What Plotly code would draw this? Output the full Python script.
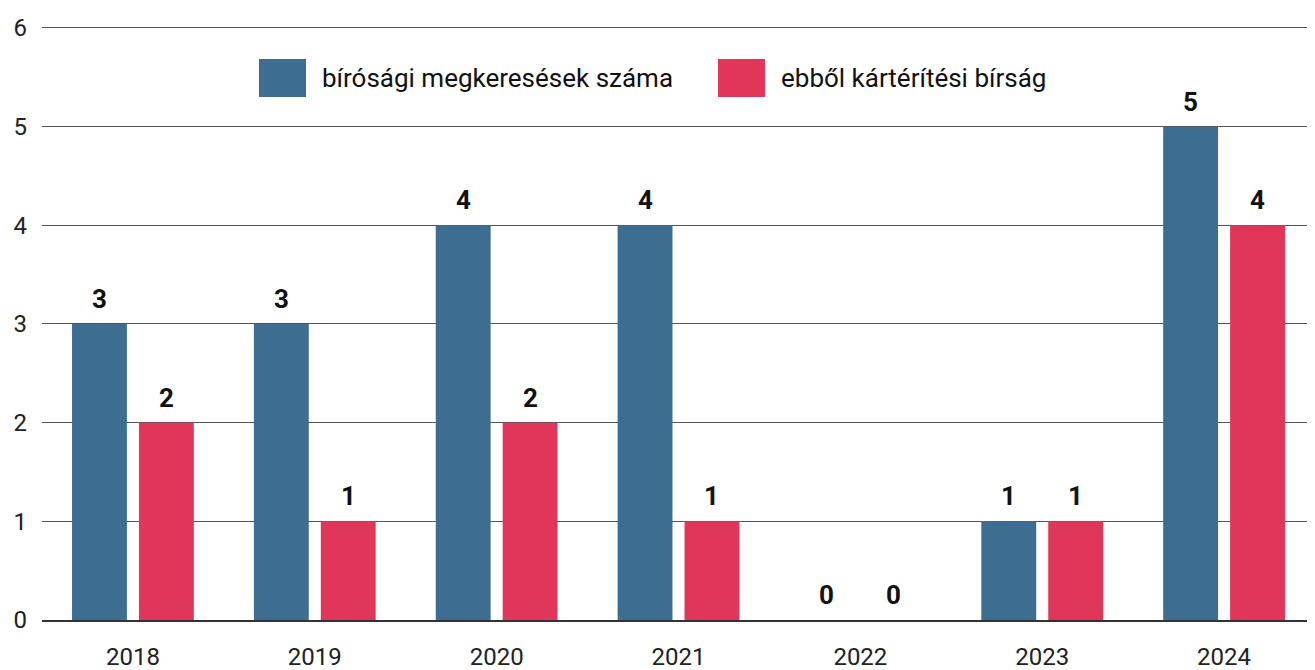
import plotly.graph_objects as go

years = ["2018", "2019", "2020", "2021", "2022", "2023", "2024"]
requests = [3, 3, 4, 4, 0, 1, 5]
fines = [2, 1, 2, 1, 0, 1, 4]
series_names = ["bírósági megkeresések száma", "ebből kártérítési bírság"]
colors = ["#3d6d91", "#e0365a"]
y_ticks = [0, 1, 2, 3, 4, 5, 6]

FONT = "Roboto"
OFF = 8  # page body margin offset
W, H = 1315 - OFF, 670 - OFF
ML, MR, MT, MB = 42 - OFF, 0, 26 - OFF, 50
PW, PH = W - ML - MR, H - MT - MB

fig = go.Figure()
for name, vals, col in zip(series_names, [requests, fines], colors):
    fig.add_trace(go.Bar(x=years, y=vals, name=name, marker=dict(color=col, line=dict(width=0)),
                         showlegend=False))

bargap, groupgap = 0.264, 0.18
cat_px = PW / len(years)
slot = cat_px * (1 - bargap) / 2
annotations = []
for i, vals in enumerate([requests, fines]):
    shift = (i - 0.5) * slot
    for idx, v in enumerate(vals):
        annotations.append(dict(x=idx, y=v, xref="x", yref="y", text=f"<b>{v}</b>", showarrow=False,
                                xshift=shift, yshift=25, yanchor="middle",
                                font=dict(family=FONT, size=26, color="#111")))

def px(x):
    return (x - OFF - ML) / PW

def py(y):
    return (MT + PH - (y - OFF)) / PH

shapes = []
legend_items = [(259, 306, 320), (718, 765, 779)]
for (x0, x1, tx), name, col in zip(legend_items, series_names, colors):
    shapes.append(dict(type="rect", xref="paper", yref="paper", x0=px(x0), x1=px(x1),
                       y0=py(97), y1=py(59), fillcolor=col, line=dict(width=0)))
    annotations.append(dict(x=px(tx), y=py(78), xref="paper", yref="paper", text=name,
                            showarrow=False, xanchor="left", yanchor="middle",
                            font=dict(family=FONT, size=26, color="#111")))

fig.update_layout(
    width=W, height=H,
    margin=dict(l=ML, r=MR, t=MT, b=MB, autoexpand=False),
    paper_bgcolor="white", plot_bgcolor="white",
    barmode="group", bargap=bargap, bargroupgap=groupgap,
    font=dict(family=FONT, size=24, color="#222"),
    annotations=annotations, shapes=shapes,
    xaxis=dict(type="category", range=[-0.5, len(years) - 0.5], showgrid=False, ticks="",
               ticklabelstandoff=14, tickfont=dict(size=24), automargin=False,
               showline=True, linecolor="#333", linewidth=2),
    yaxis=dict(range=[0, 6.02], tickvals=y_ticks, showgrid=True, gridcolor="#555", gridwidth=1,
               zeroline=False, ticks="", ticklabelstandoff=14, tickfont=dict(size=24),
               automargin=False),
)

fig.write_html("out.html")
